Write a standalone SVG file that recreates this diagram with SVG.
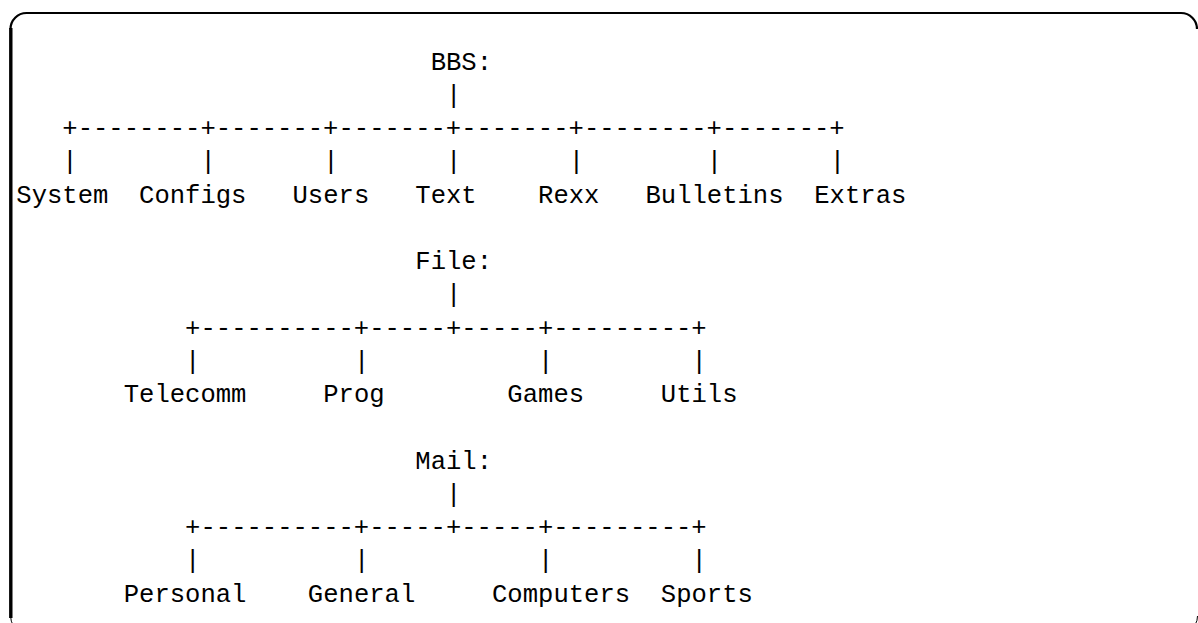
<svg xmlns="http://www.w3.org/2000/svg" width="1198" height="623" viewBox="0 0 1198 623">
<style>
text{font-family:"Liberation Mono","DejaVu Sans Mono",monospace;font-size:25.57px;fill:#000;white-space:pre}
.frame{fill:none;stroke:#000}
</style>
<rect width="1198" height="623" fill="#fff"/>
<g id="frame">
<path class="frame" stroke-width="2.2" d="M10.5,29 A16,16 0 0 1 26.5,13 H1181 A16,16 0 0 1 1197,29"/>
<path class="frame" stroke-width="3.4" d="M10.8,28 V618"/>
<path class="frame" stroke-width="1" d="M10.7,617 A16,16 0 0 0 13,625"/>
<path class="frame" stroke-width="1" d="M1197.5,616 A16,16 0 0 1 1195,625"/>
</g>
<g id="connectors">
<text x="445.99" y="102.76">|</text>
<text x="62.34" y="136">+--------+-------+-------+-------+--------+-------+</text>
<text x="62.34" y="169.3">|</text>
<text x="200.45" y="169.3">|</text>
<text x="323.22" y="169.3">|</text>
<text x="445.99" y="169.3">|</text>
<text x="568.76" y="169.3">|</text>
<text x="706.87" y="169.3">|</text>
<text x="829.64" y="169.3">|</text>
<text x="445.99" y="302.3">|</text>
<text x="185.11" y="335.6">+----------+-----+-----+---------+</text>
<text x="185.11" y="368.8">|</text>
<text x="353.91" y="368.8">|</text>
<text x="538.06" y="368.8">|</text>
<text x="691.52" y="368.8">|</text>
<text x="445.99" y="501.9">|</text>
<text x="185.11" y="535.1">+----------+-----+-----+---------+</text>
<text x="185.11" y="568.4">|</text>
<text x="353.91" y="568.4">|</text>
<text x="538.06" y="568.4">|</text>
<text x="691.52" y="568.4">|</text>
</g>
<g id="BBS"><text x="430.64" y="69.5">BBS:</text></g>
<g id="System"><text x="16.3" y="202.5">System</text></g>
<g id="Configs"><text x="139.07" y="202.5">Configs</text></g>
<g id="Users"><text x="292.53" y="202.5">Users</text></g>
<g id="Text"><text x="415.3" y="202.5">Text</text></g>
<g id="Rexx"><text x="538.06" y="202.5">Rexx</text></g>
<g id="Bulletins"><text x="645.49" y="202.5">Bulletins</text></g>
<g id="Extras"><text x="814.29" y="202.5">Extras</text></g>
<g id="File"><text x="415.3" y="269.1">File:</text></g>
<g id="Telecomm"><text x="123.72" y="402.1">Telecomm</text></g>
<g id="Prog"><text x="323.22" y="402.1">Prog</text></g>
<g id="Games"><text x="507.37" y="402.1">Games</text></g>
<g id="Utils"><text x="660.83" y="402.1">Utils</text></g>
<g id="Mail"><text x="415.3" y="468.6">Mail:</text></g>
<g id="Personal"><text x="123.72" y="601.7">Personal</text></g>
<g id="General"><text x="307.87" y="601.7">General</text></g>
<g id="Computers"><text x="492.03" y="601.7">Computers</text></g>
<g id="Sports"><text x="660.83" y="601.7">Sports</text></g>
</svg>
